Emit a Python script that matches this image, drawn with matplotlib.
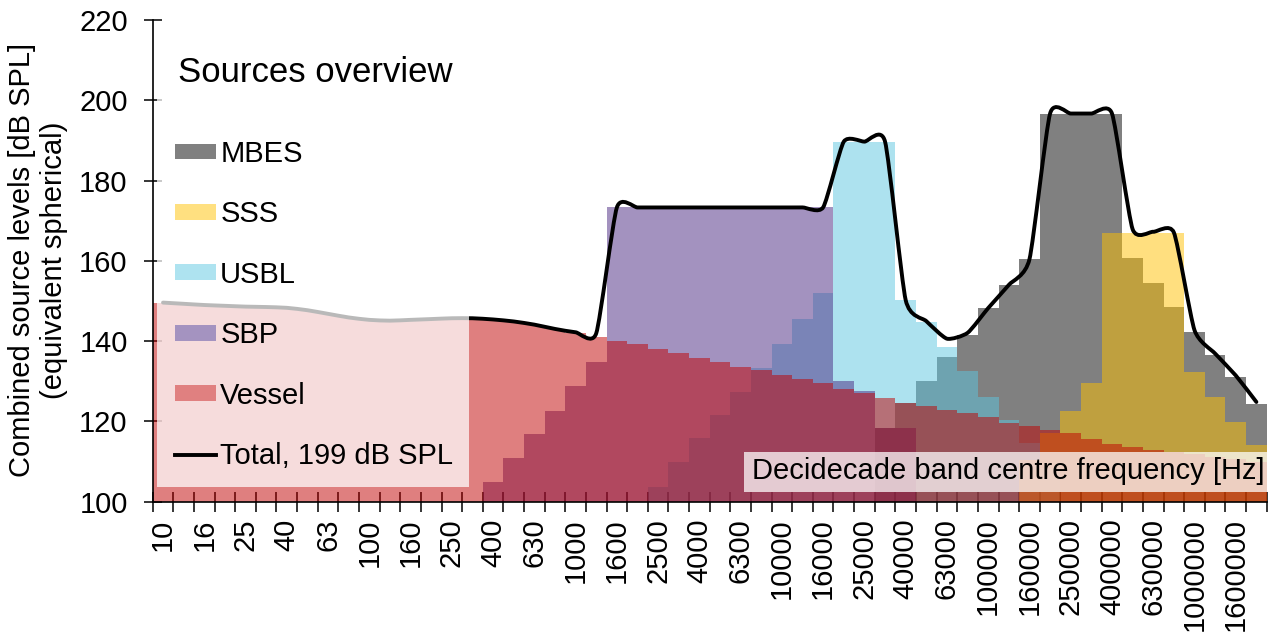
import numpy as np
import matplotlib
matplotlib.use("Agg")
import matplotlib.pyplot as plt
from matplotlib.patches import Rectangle, Patch, PathPatch
from matplotlib.lines import Line2D
from matplotlib.path import Path

plt.rcParams['font.family'] = ['Liberation Sans', 'DejaVu Sans']

nan = np.nan

# Decidecade band centre frequencies (Hz)
band_labels = ['10', '12.5', '16', '20', '25', '31.5', '40', '50', '63', '80',
               '100', '125', '160', '200', '250', '315', '400', '500', '630', '800',
               '1000', '1250', '1600', '2000', '2500', '3150', '4000', '5000', '6300', '8000',
               '10000', '12500', '16000', '20000', '25000', '31500', '40000', '50000', '63000', '80000',
               '100000', '125000', '160000', '200000', '250000', '315000', '400000', '500000', '630000', '800000',
               '1000000', '1250000', '1600000', '2000000']

# Source levels per band [dB SPL] (nan = source absent in that band)
vessel = [149.6, 149.3, 149.0, 148.8, 148.6, 148.5, 148.3, 147.7, 146.8, 145.9,
          145.3, 145.1, 145.3, 145.5, 145.7, 145.7, 145.4, 144.9, 144.1, 143.0,
          142.0, 141.0, 140.0, 139.3, 138.0, 137.0, 135.7, 134.9, 133.6, 132.8,
          131.5, 130.5, 129.5, 128.2, 127.0, 125.9, 124.7, 123.8, 122.8, 122.0,
          121.2, 119.7, 118.9, 117.8, 117.0, 115.5, 114.4, 113.7, 113.0, 112.4,
          111.8, 111.2, 110.6, 110.0]

sbp = [nan, nan, nan, nan, nan, nan, nan, nan, nan, nan,
       nan, nan, nan, nan, nan, nan, 105.0, 111.0, 116.8, 122.6,
       128.8, 134.9, 173.3, 173.3, 173.3, 173.3, 173.3, 173.3, 173.3, 173.3,
       173.3, 173.3, 173.3, 130.0, 127.5, 118.4, 118.4, nan, nan, nan,
       nan, nan, nan, nan, nan, nan, nan, nan, nan, nan,
       nan, nan, nan, nan]

usbl = [nan, nan, nan, nan, nan, nan, nan, nan, nan, nan,
        nan, nan, nan, nan, nan, nan, nan, nan, nan, nan,
        nan, nan, nan, nan, 103.7, 110.0, 115.9, 121.6, 127.4, 133.2,
        139.4, 145.4, 151.9, 189.7, 189.7, 189.7, 150.2, 144.8, 138.6, 132.5,
        126.2, 120.4, 114.5, 108.5, nan, nan, nan, nan, nan, nan,
        nan, nan, nan, nan]

mbes = [nan, nan, nan, nan, nan, nan, nan, nan, nan, nan,
        nan, nan, nan, nan, nan, nan, nan, nan, nan, nan,
        nan, nan, nan, nan, nan, nan, nan, nan, nan, nan,
        nan, nan, nan, nan, nan, 118.4, 124.5, 130.1, 136.1, 141.5,
        148.2, 154.0, 160.4, 196.7, 196.7, 196.7, 196.7, 160.6, 154.6, 148.6,
        142.3, 136.5, 131.1, 124.3]

sss = [nan, nan, nan, nan, nan, nan, nan, nan, nan, nan,
       nan, nan, nan, nan, nan, nan, nan, nan, nan, nan,
       nan, nan, nan, nan, nan, nan, nan, nan, nan, nan,
       nan, nan, nan, nan, nan, nan, nan, nan, nan, nan,
       nan, nan, 110.5, 117.0, 122.6, 129.5, 167.0, 167.0, 167.0, 167.0,
       132.4, 126.2, 119.9, 114.1]

legend_names = ['MBES', 'SSS', 'USBL', 'SBP', 'Vessel', 'Total, 199 dB SPL']

W, H = 1271, 635
fig = plt.figure(figsize=(W / 100, H / 100), dpi=100)
x0, x1, ytop, ybot = 152.7, 1266.7, 20.0, 501.7
ax = fig.add_axes([x0 / W, 1 - ybot / H, (x1 - x0) / W, (ybot - ytop) / H])

xpos = np.arange(len(band_labels))
YMIN, YMAX = 100, 220


def draw_bars(vals, color, alpha, z):
    v = np.asarray(vals, float)
    m = ~np.isnan(v)
    ax.bar(xpos[m], v[m] - YMIN, bottom=YMIN, width=1.0, color=color, alpha=alpha,
           linewidth=0, antialiased=False, zorder=z)


draw_bars(mbes, '#808080', 1.0, 1)
draw_bars(usbl, '#5DC7E1', 0.5, 2)
draw_bars(sbp, '#492781', 0.5, 3)
draw_bars(sss, '#FFC000', 0.5, 4)
draw_bars(vessel, '#C00000', 0.5, 5)

# Total (energetic sum) drawn as a smoothed line
stack = np.vstack([vessel, sbp, usbl, mbes, sss]).astype(float)
total = 10 * np.log10(np.nansum(10 ** (stack / 10), axis=0))
pts = np.column_stack([xpos, total])
k = 0.1
verts = [pts[0]]
codes = [Path.MOVETO]
n = len(pts)
for i in range(n - 1):
    p0 = pts[i - 1] if i > 0 else pts[i]
    p1 = pts[i]
    p2 = pts[i + 1]
    p3 = pts[i + 2] if i + 2 < n else pts[i + 1]
    verts += [p1 + (p2 - p0) * k, p2 - (p3 - p1) * k, p2]
    codes += [Path.CURVE4] * 3
ax.add_patch(PathPatch(Path(verts, codes), facecolor='none', edgecolor='black',
                       linewidth=2.8, capstyle='round', joinstyle='round', zorder=6))

ax.set_xlim(-0.5, len(band_labels) - 0.5)
ax.set_ylim(YMIN, YMAX)


def px2x(px):
    return (px - x0) / (x1 - x0) * len(band_labels) - 0.5


def py2y(py):
    return YMIN + (ybot - py) / (ybot - ytop) * (YMAX - YMIN)


# semi-transparent legend panel
ax.add_patch(Rectangle((px2x(157.3), py2y(487.3)), px2x(469.3) - px2x(157.3),
                       py2y(30) - py2y(487.3), facecolor='white', alpha=0.73,
                       edgecolor='none', zorder=7))
# semi-transparent x-label panel
ax.add_patch(Rectangle((px2x(744), py2y(491.7)), px2x(1266.7) - px2x(744),
                       py2y(451.7) - py2y(491.7), facecolor='white', alpha=0.73,
                       edgecolor='none', zorder=7))
ax.text(px2x(752), py2y(471.5), 'Decidecade band centre frequency [Hz]', fontsize=21,
        ha='left', va='center', color='black', zorder=8)

# axes styling
for s in ['top', 'right']:
    ax.spines[s].set_visible(False)
for s in ['left', 'bottom']:
    ax.spines[s].set_linewidth(1.2)
    ax.spines[s].set_zorder(8)

ax.set_yticks(np.arange(YMIN, YMAX + 1, 20))
ax.tick_params(axis='y', direction='inout', length=13, width=1.1, pad=11.5,
               labelsize=21, colors='black')
ax.set_xticks(xpos[::2])
ax.set_xticklabels(band_labels[::2], rotation=90)
ax.tick_params(axis='x', which='major', length=0, pad=12, labelsize=21)
ax.set_xticks(np.arange(-0.5, len(band_labels), 1), minor=True)
ax.tick_params(axis='x', which='minor', direction='inout', length=14, width=1.1)

handles = [Patch(facecolor='#808080'), Patch(facecolor='#FFE080'), Patch(facecolor='#AEE3F0'),
           Patch(facecolor='#A493C0'), Patch(facecolor='#E08080'),
           Line2D([], [], color='black', linewidth=2.8)]
leg = ax.legend(handles, legend_names, loc='upper left',
                bbox_to_anchor=(175 / W, 1 - 140 / H), bbox_transform=fig.transFigure,
                frameon=False, fontsize=21, handlelength=1.4, handleheight=0.455,
                handletextpad=0.15, labelspacing=1.11, borderpad=0, borderaxespad=0)
leg.set_zorder(9)

fig.text(178 / W, 1 - 73 / H, 'Sources overview', fontsize=25, ha='left', va='center')
fig.text(38 / W, 1 - 260 / H, 'Combined source levels [dB SPL]\n(equivalent spherical)',
         fontsize=21, rotation=90, ha='center', va='center', multialignment='center')

fig.savefig('out.png', dpi=100)
